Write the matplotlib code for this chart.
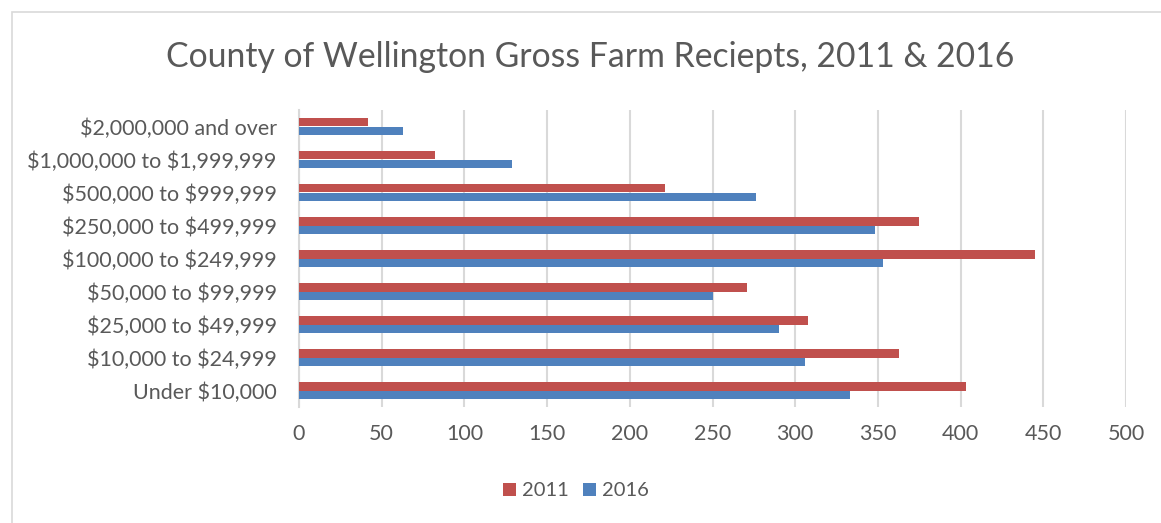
import matplotlib.pyplot as plt
import matplotlib.patches as mpatches
import numpy as np

# Categories top-down as shown in the chart
categories = ['$2,000,000 and over', '$1,000,000 to $1,999,999', '$500,000 to $999,999',
              '$250,000 to $499,999', '$100,000 to $249,999', '$50,000 to $99,999',
              '$25,000 to $49,999', '$10,000 to $24,999', 'Under $10,000']
farms_2011 = [42, 82, 221, 375, 445, 271, 308, 363, 403]
farms_2016 = [63, 129, 276, 348, 353, 250, 290, 306, 333]
x_ticks = [0, 50, 100, 150, 200, 250, 300, 350, 400, 450, 500]

text_color = '#595959'
plt.rcParams['font.family'] = ['Lato', 'DejaVu Sans']
plt.rcParams['text.parse_math'] = False

fig = plt.figure(figsize=(11.61, 5.23), dpi=100)
W, H = 1161, 523

# Chart border
fig.patches.append(mpatches.Rectangle((12 / W, -0.1), 1.2, 1 - 12 / H + 0.1,
                                      transform=fig.transFigure, fill=False,
                                      edgecolor='#d9d9d9', linewidth=1.2))

ax = fig.add_axes([299 / W, 1 - 407 / H, (1126 - 299) / W, (407 - 110) / H])

y = np.arange(len(categories))
bh = 0.27
ax.barh(y - bh / 2, farms_2011, height=bh, color='#C0504D', label='2011', zorder=3)
ax.barh(y + bh / 2, farms_2016, height=bh, color='#4F81BD', label='2016', zorder=3)

ax.set_ylim(len(categories) - 0.5, -0.5)
ax.set_xlim(0, 500)
ax.set_yticks(y)
ax.set_yticklabels(categories)
ax.set_xticks(x_ticks)
ax.tick_params(axis='y', length=0, pad=16, labelsize=15.5, labelcolor=text_color)
ax.tick_params(axis='x', length=0, pad=12, labelsize=15.5, labelcolor=text_color)

ax.grid(axis='x', color='#d9d9d9', linewidth=1.5, zorder=0)
for s in ['top', 'right', 'bottom']:
    ax.spines[s].set_visible(False)
ax.spines['left'].set_color('#d9d9d9')
ax.spines['left'].set_linewidth(1.5)

fig.text(590 / W, 1 - 57 / H, 'County of Wellington Gross Farm Reciepts, 2011 & 2016',
         ha='center', va='center', fontsize=24.3, color=text_color)

handles, labels = ax.get_legend_handles_labels()
fig.legend(handles, labels, loc='center', bbox_to_anchor=(576 / W, 1 - 491 / H), ncol=2,
           frameon=False, fontsize=14.5, handlelength=0.65, handleheight=0.65,
           handletextpad=0.3, columnspacing=0.7, labelcolor=text_color)

fig.savefig('out.png', dpi=100)
